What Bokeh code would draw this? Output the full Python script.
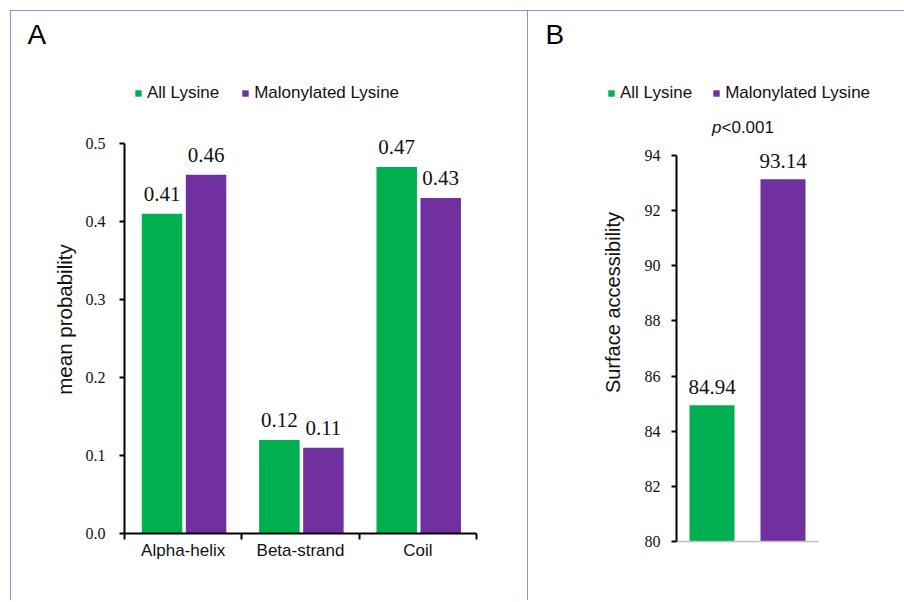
import math
from bokeh.plotting import figure
from bokeh.models import (FactorRange, Range1d, LinearAxis, CategoricalAxis, FixedTicker,
                          NumeralTickFormatter, Legend, LegendItem, Label, ColumnDataSource)
from bokeh.transform import dodge, factor_cmap
from bokeh.embed import file_html
from bokeh.resources import INLINE
from bokeh.core.properties import value

# ---------------- data ----------------
structures = ["Alpha-helix", "Beta-strand", "Coil"]
all_lysine_prob = [0.41, 0.12, 0.47]
malonylated_lysine_prob = [0.46, 0.11, 0.43]
series_names = ["All Lysine", "Malonylated Lysine"]
surface_accessibility = [84.94, 93.14]
prob_ticks = [0.0, 0.1, 0.2, 0.3, 0.4, 0.5]
access_ticks = [80, 82, 84, 86, 88, 90, 92, 94]
p_value_text = "<0.001"

# ---------------- styles ----------------
GREEN = "#00B050"
PURPLE = "#7030A0"
BORDER = "#4F7EBB"
SANS = "Liberation Sans"
SERIF = "Liberation Serif"
TXT = "#111111"


def panel_style(left, top):
    return {"position": "absolute", "left": f"{left}px", "top": f"{top}px",
            "outline": f"1px solid {BORDER}", "outline-offset": "-1px"}


def style_left_axis(ax, standoff):
    ax.axis_line_width = 2
    ax.axis_line_color = "#000000"
    ax.major_tick_line_width = 2
    ax.major_tick_line_color = "#000000"
    ax.major_tick_out = 5
    ax.major_tick_in = 0
    ax.minor_tick_line_color = None
    ax.major_label_text_font = SERIF
    ax.major_label_text_font_size = "16px"
    ax.major_label_text_color = TXT
    ax.major_label_standoff = standoff


# ---------------- panel A ----------------
pa = figure(width=518, height=590, title=None,
            x_range=FactorRange(factors=structures, range_padding=0),
            y_range=Range1d(0, 0.5936),
            output_backend="svg", toolbar_location=None,
            x_axis_location=None, y_axis_location=None,
            min_border_left=114, min_border_right=52,
            min_border_top=60, min_border_bottom=67)
pa.grid.visible = False
pa.outline_line_color = None
pa.styles = panel_style(10, 10)

ya = LinearAxis(ticker=FixedTicker(ticks=prob_ticks),
                formatter=NumeralTickFormatter(format="0.0"),
                bounds=(prob_ticks[0], prob_ticks[-1]))
style_left_axis(ya, 14)
pa.add_layout(ya, "left")

# category boundary ticks (synthetic categorical coordinates 0..N)
xt = LinearAxis(ticker=FixedTicker(ticks=list(range(len(structures) + 1))),
                major_label_text_font_size="1px", major_label_text_color=None,
                major_label_standoff=0,
                minor_tick_line_color=None, major_tick_out=6, major_tick_in=0,
                axis_line_width=2, major_tick_line_width=2)
pa.add_layout(xt, "below")
xc = CategoricalAxis(axis_line_color=None, major_tick_line_color=None,
                     minor_tick_line_color=None,
                     major_label_text_font=SANS, major_label_text_font_size="17px",
                     major_label_text_color=TXT, major_label_standoff=-5)
pa.add_layout(xc, "below")

src_a = ColumnDataSource(dict(
    structure=structures,
    all=all_lysine_prob,
    mal=malonylated_lysine_prob,
    all_lbl=[f"{v:.2f}" for v in all_lysine_prob],
    mal_lbl=[f"{v:.2f}" for v in malonylated_lysine_prob],
))
OFF_G, OFF_P, BW = -0.18, 0.195, 0.345
pa.vbar(x=dodge("structure", OFF_G, range=pa.x_range), top="all", bottom=0,
        width=BW, source=src_a, fill_color=GREEN, line_color=None)
pa.vbar(x=dodge("structure", OFF_P, range=pa.x_range), top="mal", bottom=0,
        width=BW, source=src_a, fill_color=PURPLE, line_color=None)
for off, col, lab in [(OFF_G, "all", "all_lbl"), (OFF_P, "mal", "mal_lbl")]:
    pa.text(x=dodge("structure", off, range=pa.x_range), y=col, text=lab, source=src_a,
            text_font=value(SERIF), text_font_size="21px", text_color=TXT,
            text_align="center", text_baseline="bottom", y_offset=-13)

# ---------------- panel B ----------------
pb = figure(width=377, height=590, title=None,
            x_range=FactorRange(factors=series_names, range_padding=0),
            y_range=Range1d(80, 97.083),
            output_backend="svg", toolbar_location=None,
            x_axis_location=None, y_axis_location=None,
            min_border_left=149, min_border_right=86,
            min_border_top=60, min_border_bottom=59)
pb.grid.visible = False
pb.outline_line_color = None
pb.styles = panel_style(527, 10)

yb = LinearAxis(ticker=FixedTicker(ticks=access_ticks),
                formatter=NumeralTickFormatter(format="0"),
                bounds=(access_ticks[0], access_ticks[-1]))
style_left_axis(yb, 11)
pb.add_layout(yb, "left")
xb = LinearAxis(ticker=FixedTicker(ticks=[]), axis_line_color="#BFBFBF", axis_line_width=1.5,
                major_tick_line_color=None, minor_tick_line_color=None,
                major_label_text_color=None)
pb.add_layout(xb, "below")

src_b = ColumnDataSource(dict(
    series=series_names,
    val=surface_accessibility,
    lbl=[f"{v:.2f}" for v in surface_accessibility],
))
pb.vbar(x="series", top="val", bottom=access_ticks[0], width=0.634, source=src_b,
        fill_color=factor_cmap("series", palette=[GREEN, PURPLE], factors=series_names),
        line_color=None)
pb.text(x="series", y="val", text="lbl", source=src_b,
        text_font=value(SERIF), text_font_size="21px", text_color=TXT,
        text_align="center", text_baseline="bottom", y_offset=-11)

# ---------------- overlay: panel letters, legends, axis titles, p-value ----------------
ov = figure(width=904, height=602, title=None,
            x_range=Range1d(0, 904), y_range=Range1d(602, 0),
            output_backend="svg", toolbar_location=None,
            x_axis_location=None, y_axis_location=None,
            min_border_left=0, min_border_right=0, min_border_top=0, min_border_bottom=0)
ov.grid.visible = False
ov.outline_line_color = None
ov.background_fill_color = None
ov.border_fill_color = None
ov.styles = {"position": "absolute", "left": "0px", "top": "0px"}

# legend swatches: zero-size bars, used only for their fill colours in the legends
sw_src = ColumnDataSource(dict(x=[0], top=[0]))
sw_all = ov.vbar(x="x", top="top", bottom=0, width=0, source=sw_src,
                 fill_color=GREEN, line_color=None)
sw_mal = ov.vbar(x="x", top="top", bottom=0, width=0, source=sw_src,
                 fill_color=PURPLE, line_color=None)


def make_legend(x, spacing):
    return Legend(items=[LegendItem(label=series_names[0], renderers=[sw_all]),
                         LegendItem(label=series_names[1], renderers=[sw_mal])],
                  orientation="horizontal", location=(x, 499.5),
                  glyph_width=8, glyph_height=8, label_standoff=5, spacing=spacing,
                  padding=0, margin=0, border_line_color=None, background_fill_alpha=0,
                  label_text_font=SANS, label_text_font_size="17px",
                  label_text_color=TXT, label_height=20)


ov.add_layout(make_legend(134, 22), "center")
ov.add_layout(make_legend(607, 20), "center")

for letter, lx in [("A", 27), ("B", 545)]:
    ov.add_layout(Label(x=lx, y=49, text=letter, text_font=SANS, text_font_size="28px",
                        text_color="#000000", text_align="left", text_baseline="bottom"))
ov.add_layout(Label(x=64, y=319, text="mean probability", angle=math.pi / 2,
                    text_font=SANS, text_font_size="20.5px", text_color=TXT,
                    text_align="center", text_baseline="middle"))
ov.add_layout(Label(x=612, y=302, text="Surface accessibility", angle=math.pi / 2,
                    text_font=SANS, text_font_size="20px", text_color=TXT,
                    text_align="center", text_baseline="middle"))
ov.add_layout(Label(x=721, y=136, text="p", text_font=SANS, text_font_size="17px",
                    text_font_style="italic", text_color=TXT,
                    text_align="right", text_baseline="bottom"))
ov.add_layout(Label(x=721, y=136, text=p_value_text, text_font=SANS, text_font_size="17px",
                    text_color=TXT, text_align="left", text_baseline="bottom"))

with open("out.html", "w") as f:
    f.write(file_html([pa, pb, ov], INLINE))
